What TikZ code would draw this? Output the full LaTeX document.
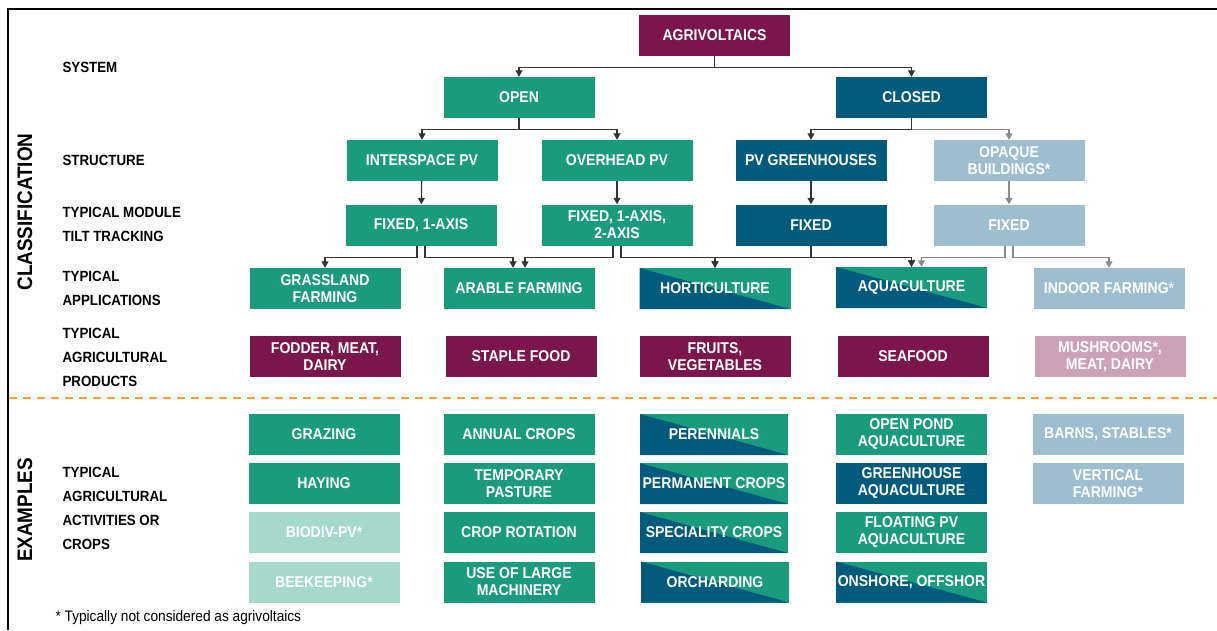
\documentclass[tikz,border=0pt]{standalone}
\usepackage{fontspec}
\setmainfont{Liberation Sans}[FakeStretch=0.9]
\usetikzlibrary{arrows.meta}
\definecolor{tgreen}{HTML}{1A9B7D}
\definecolor{tblue}{HTML}{025B7C}
\definecolor{tmaroon}{HTML}{7A164B}
\definecolor{tgreyblue}{HTML}{9CBECE}
\definecolor{tlightgreen}{HTML}{A4D9CB}
\definecolor{tpink}{HTML}{CDA2B9}
\definecolor{torange}{HTML}{F4A236}
\definecolor{lncol}{HTML}{333333}
\definecolor{lngrey}{HTML}{8A8A8A}
\begin{document}
\begin{tikzpicture}[x=1pt,y=-1pt,
  box/.style={minimum width=151pt,minimum height=41pt,inner sep=0pt,text=white,
    font=\fontsize{15.6}{17}\selectfont\bfseries,align=center},
  gbox/.style={box,fill=tgreen},
  bbox/.style={box,fill=tblue},
  mbox/.style={box,fill=tmaroon},
  lbbox/.style={box,fill=tgreyblue},
  lgbox/.style={box,fill=tlightgreen},
  pbox/.style={box,fill=tpink},
  splitbox/.style={box,fill=tgreen,path picture={
    \fill[tblue] (path picture bounding box.north west) -- (path picture bounding box.south east)
      -- (path picture bounding box.south west) -- cycle;}},
  conn/.style={lncol,line width=1.2pt,-{Triangle[width=7pt,length=6.5pt]}},
  gconn/.style={conn,lngrey},
  lbl/.style={anchor=west,align=left,font=\fontsize{14.8}{24}\selectfont\bfseries,text=black},
  head/.style={rotate=90,font=\fontsize{21}{21}\selectfont\bfseries,text=black}
]
\useasboundingbox (0,0) rectangle (1217,630);
% frame
\draw[line width=2.6pt] (8,630) -- (8,9) -- (1217,9);
\draw[torange,line width=1.6pt,dash pattern=on 8pt off 6pt] (9,398) -- (1217,398);

% headings
\node[head] (hcls) at (25,212) {CLASSIFICATION};
\node[head] (hex) at (25,510) {EXAMPLES};
\node[lbl] (lsys) at (59,67) {SYSTEM};
\node[lbl] (lstr) at (59,160.5) {STRUCTURE};
\node[lbl] (ltrk) at (59,224) {TYPICAL MODULE\\TILT TRACKING};
\node[lbl] (lapp) at (59,288.5) {TYPICAL\\APPLICATIONS};
\node[lbl] (lprd) at (59,357) {TYPICAL\\AGRICULTURAL\\PRODUCTS};
\node[lbl] (lact) at (59,508) {TYPICAL\\AGRICULTURAL\\ACTIVITIES OR\\CROPS};
\node[anchor=west,font=\fontsize{15.2}{15}\selectfont] (fn) at (52,618) {* Typically not considered as agrivoltaics};

% hierarchy
\node[mbox] (agri) at (714.5,35.5) {AGRIVOLTAICS};
\node[gbox] (open) at (519,97.5) {OPEN};
\node[bbox] (closed) at (911.5,97.5) {CLOSED};
\node[gbox] (inter) at (422,160.5) {INTERSPACE PV};
\node[gbox] (over) at (617,160.5) {OVERHEAD PV};
\node[bbox] (pvg) at (811,160.5) {PV GREENHOUSES};
\node[lbbox] (opq) at (1009,160.5) {OPAQUE\\BUILDINGS*};
\node[gbox] (f1) at (421,225) {FIXED, 1-AXIS};
\node[gbox] (f12) at (617,225) {FIXED, 1-AXIS,\\2-AXIS};
\node[bbox] (fb) at (811,225) {FIXED};
\node[lbbox] (fg) at (1009,225) {FIXED};

% applications
\node[gbox] (grass) at (325,288.5) {GRASSLAND\\FARMING};
\node[gbox] (arable) at (519,288.5) {ARABLE FARMING};
\node[splitbox] (hort) at (715,288.5) {HORTICULTURE};
\node[splitbox] (aqua) at (911.5,287.5) {AQUACULTURE};
\node[lbbox] (indoor) at (1109,288.5) {INDOOR FARMING*};

% products
\node[mbox] (fodder) at (325,356.5) {FODDER, MEAT,\\DAIRY};
\node[mbox] (staple) at (521,356.5) {STAPLE FOOD};
\node[mbox] (fruits) at (715,356.5) {FRUITS,\\VEGETABLES};
\node[mbox] (seafood) at (913,356.5) {SEAFOOD};
\node[pbox] (mush) at (1110,356.5) {MUSHROOMS*,\\MEAT, DAIRY};

% examples
\node[gbox] (e11) at (324,434.5) {GRAZING};
\node[gbox] (e12) at (324,483.5) {HAYING};
\node[lgbox] (e13) at (324,532.5) {BIODIV-PV*};
\node[lgbox] (e14) at (324,582) {BEEKEEPING*};
\node[gbox] (e21) at (519,434.5) {ANNUAL CROPS};
\node[gbox] (e22) at (519,483.5) {TEMPORARY\\PASTURE};
\node[gbox] (e23) at (519,532.5) {CROP ROTATION};
\node[gbox] (e24) at (519,582) {USE OF LARGE\\MACHINERY};
\node[splitbox,minimum width=148pt] (e31) at (714,434.5) {PERENNIALS};
\node[splitbox,minimum width=148pt] (e32) at (714,483.5) {PERMANENT CROPS};
\node[splitbox,minimum width=148pt] (e33) at (714,532.5) {SPECIALITY CROPS};
\node[splitbox,minimum width=148pt] (e34) at (715,582) {ORCHARDING};
\node[gbox] (e41) at (911.5,434.5) {OPEN POND\\AQUACULTURE};
\node[bbox] (e42) at (911.5,483.5) {GREENHOUSE\\AQUACULTURE};
\node[gbox] (e43) at (911.5,532.5) {FLOATING PV\\AQUACULTURE};
\node[splitbox] (e44) at (911.5,582) {ONSHORE, OFFSHOR};
\node[lbbox] (e51) at (1108,434.5) {BARNS, STABLES*};
\node[lbbox] (e52) at (1108,483.5) {VERTICAL\\FARMING*};

% connectors
\draw[conn] (agri.south) -- ++(0,11) -| (open.north);
\draw[conn] (agri.south) -- ++(0,11) -| (closed.north);
\draw[conn] (open.south) -- ++(0,11) -| (inter.north);
\draw[conn] (open.south) -- ++(0,11) -| (over.north);
\draw[gconn] (closed.south) -- ++(0,11) -| (opq.north);
\draw[conn] (closed.south) -- ++(0,11) -| (pvg.north);
\draw[conn] (inter) -- (f1);
\draw[conn] (over) -- (f12);
\draw[conn] (pvg) -- (fb);
\draw[gconn] (opq) -- (fg);

\draw[conn] ([xshift=-4pt]f1.south) -- ++(0,12) -| (grass.north);
\draw[conn] ([xshift=4pt]f1.south) -- ++(0,12) -| ([xshift=-6pt]arable.north);
\draw[conn] ([xshift=-4pt]f12.south) -- ++(0,12) -| ([xshift=6pt]arable.north);
\draw[conn] ([xshift=4pt]f12.south) -- ++(0,12) -| (hort.north);
\draw[conn] ([xshift=4pt]f12.south) -- ++(0,12) -| (aqua.north);
\draw[conn] (fb.south) -- ++(0,12) -| (hort.north);
\draw[conn] (fb.south) -- ++(0,12) -| (aqua.north);
\draw[gconn] ([xshift=-4pt]fg.south) -- ++(0,12) -| ([xshift=10pt]aqua.north);
\draw[gconn] ([xshift=4pt]fg.south) -- ++(0,12) -| (indoor.north);
\end{tikzpicture}
\end{document}
